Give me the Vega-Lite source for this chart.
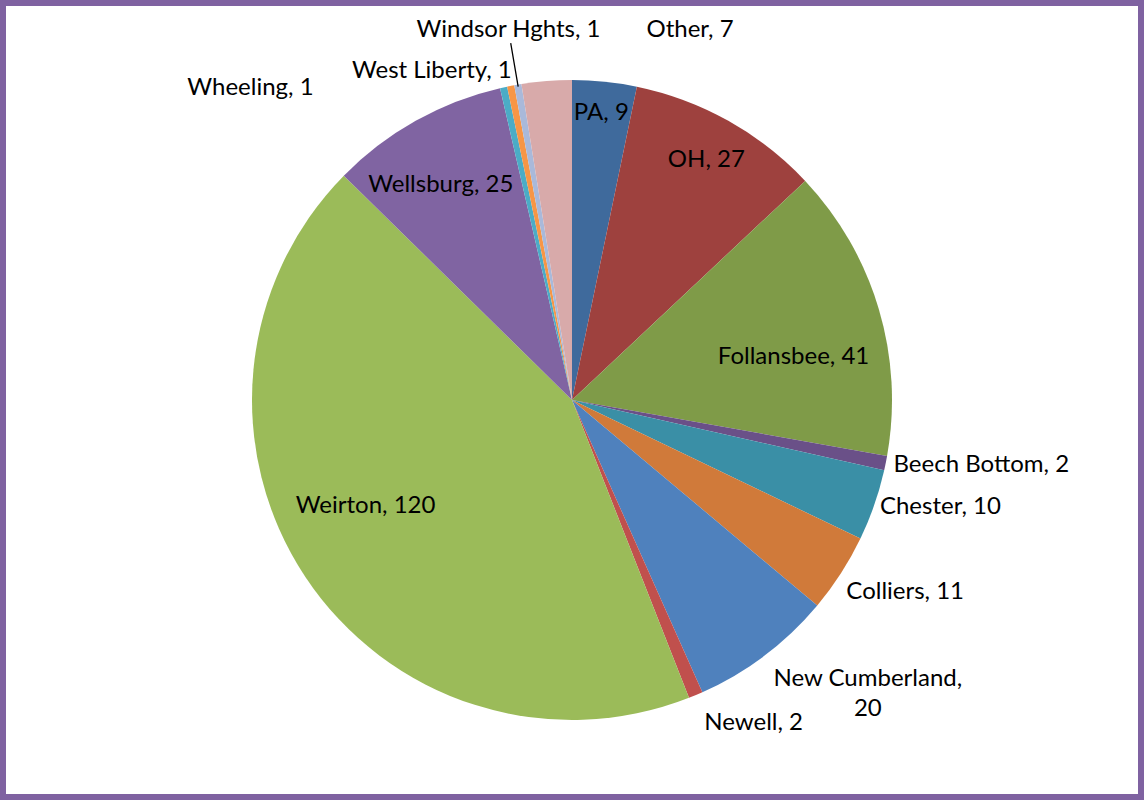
{
  "$schema": "https://vega.github.io/schema/vega-lite/v6.json",
  "width": 1144,
  "height": 800,
  "padding": 0,
  "autosize": {"type": "fit", "contains": "padding"},
  "background": "white",
  "config": {
    "view": {"stroke": null},
    "text": {"font": "Lato", "fontSize": 24, "fill": "black", "baseline": "middle"}
  },
  "data": {
    "values": [
      {"idx": 1, "cat": "PA", "value": 9, "label": "PA, 9"},
      {"idx": 2, "cat": "OH", "value": 27, "label": "OH, 27"},
      {"idx": 3, "cat": "Follansbee", "value": 41, "label": "Follansbee, 41"},
      {"idx": 4, "cat": "Beech Bottom", "value": 2, "label": "Beech Bottom, 2"},
      {"idx": 5, "cat": "Chester", "value": 10, "label": "Chester, 10"},
      {"idx": 6, "cat": "Colliers", "value": 11, "label": "Colliers, 11"},
      {"idx": 7, "cat": "New Cumberland", "value": 20, "label": "New Cumberland,\n20"},
      {"idx": 8, "cat": "Newell", "value": 2, "label": "Newell, 2"},
      {"idx": 9, "cat": "Weirton", "value": 120, "label": "Weirton, 120"},
      {"idx": 10, "cat": "Wellsburg", "value": 25, "label": "Wellsburg, 25"},
      {"idx": 11, "cat": "Wheeling", "value": 1, "label": "Wheeling, 1"},
      {"idx": 12, "cat": "West Liberty", "value": 1, "label": "West Liberty, 1"},
      {"idx": 13, "cat": "Windsor Hghts", "value": 1, "label": "Windsor Hghts, 1"},
      {"idx": 14, "cat": "Other", "value": 7, "label": "Other, 7"}
    ]
  },
  "layer": [
    {
      "data": {"values": [{}]},
      "mark": {"type": "rect", "fill": null, "stroke": "#7F62A1", "strokeWidth": 6},
      "encoding": {}
    },
    {
      "encoding": {
        "theta": {"field": "value", "type": "quantitative", "stack": true},
        "order": {"field": "idx", "type": "quantitative"}
      },
      "layer": [
        {
          "mark": {"type": "arc", "outerRadius": 320},
          "encoding": {
            "color": {
              "field": "cat",
              "type": "nominal",
              "legend": null,
              "scale": {
                "domain": ["PA", "OH", "Follansbee", "Beech Bottom", "Chester", "Colliers", "New Cumberland", "Newell", "Weirton", "Wellsburg", "Wheeling", "West Liberty", "Windsor Hghts", "Other"],
                "range": ["#3F6A9C", "#9E413E", "#7F9B48", "#6A5088", "#3A8FA6", "#D07A3A", "#4F81BD", "#C0504D", "#9BBB59", "#8064A2", "#4BACC6", "#F79646", "#A9B9DA", "#D8AAAA"]
              }
            }
          }
        },
        {
          "mark": {"type": "arc", "innerRadius": 318, "outerRadius": 362, "padAngle": 1, "filled": false, "stroke": "black", "strokeWidth": 1.3, "fill": null},
          "encoding": {
            "detail": {"field": "cat"},
            "strokeOpacity": {"condition": {"test": "datum.cat === 'Windsor Hghts'", "value": 1}, "value": 0}
          }
        },
        {"mark": {"type": "text", "radius": 288, "align": "center"},
         "encoding": {"detail": {"field": "cat"}, "text": {"condition": {"test": "datum.cat === 'PA'", "field": "label"}, "value": ""}}},
        {"mark": {"type": "text", "radius": 275, "align": "center"},
         "encoding": {"detail": {"field": "cat"}, "text": {"condition": {"test": "datum.cat === 'OH'", "field": "label"}, "value": ""}}},
        {"mark": {"type": "text", "radius": 227, "align": "center", "dx": 4, "dy": 22},
         "encoding": {"detail": {"field": "cat"}, "text": {"condition": {"test": "datum.cat === 'Follansbee'", "field": "label"}, "value": ""}}},
        {"mark": {"type": "text", "radius": 330, "align": "left", "dx": -2},
         "encoding": {"detail": {"field": "cat"}, "text": {"condition": {"test": "datum.cat === 'Beech Bottom'", "field": "label"}, "value": ""}}},
        {"mark": {"type": "text", "radius": 326, "align": "left"},
         "encoding": {"detail": {"field": "cat"}, "text": {"condition": {"test": "datum.cat === 'Chester'", "field": "label"}, "value": ""}}},
        {"mark": {"type": "text", "radius": 330, "align": "left", "dx": -3, "dy": 13},
         "encoding": {"detail": {"field": "cat"}, "text": {"condition": {"test": "datum.cat === 'Colliers'", "field": "label"}, "value": ""}}},
        {"mark": {"type": "text", "radius": 360, "align": "center", "dx": 79, "dy": -8, "lineBreak": "\n", "lineHeight": 30},
         "encoding": {"detail": {"field": "cat"}, "text": {"condition": {"test": "datum.cat === 'New Cumberland'", "field": "label"}, "value": ""}}},
        {"mark": {"type": "text", "radius": 350, "align": "left", "dx": -3},
         "encoding": {"detail": {"field": "cat"}, "text": {"condition": {"test": "datum.cat === 'Newell'", "field": "label"}, "value": ""}}},
        {"mark": {"type": "text", "radius": 233, "align": "center", "dx": -12, "dy": -22},
         "encoding": {"detail": {"field": "cat"}, "text": {"condition": {"test": "datum.cat === 'Weirton'", "field": "label"}, "value": ""}}},
        {"mark": {"type": "text", "radius": 246, "align": "center", "dx": -11},
         "encoding": {"detail": {"field": "cat"}, "text": {"condition": {"test": "datum.cat === 'Wellsburg'", "field": "label"}, "value": ""}}},
        {"mark": {"type": "text", "radius": 320, "align": "right", "dx": -190, "dy": 1},
         "encoding": {"detail": {"field": "cat"}, "text": {"condition": {"test": "datum.cat === 'Wheeling'", "field": "label"}, "value": ""}}},
        {"mark": {"type": "text", "radius": 335, "align": "right", "dx": 4},
         "encoding": {"detail": {"field": "cat"}, "text": {"condition": {"test": "datum.cat === 'West Liberty'", "field": "label"}, "value": ""}}},
        {"mark": {"type": "text", "radius": 375, "align": "center"},
         "encoding": {"detail": {"field": "cat"}, "text": {"condition": {"test": "datum.cat === 'Windsor Hghts'", "field": "label"}, "value": ""}}},
        {"mark": {"type": "text", "radius": 372, "align": "left", "dx": 104, "dy": 1},
         "encoding": {"detail": {"field": "cat"}, "text": {"condition": {"test": "datum.cat === 'Other'", "field": "label"}, "value": ""}}}
      ]
    }
  ]
}
